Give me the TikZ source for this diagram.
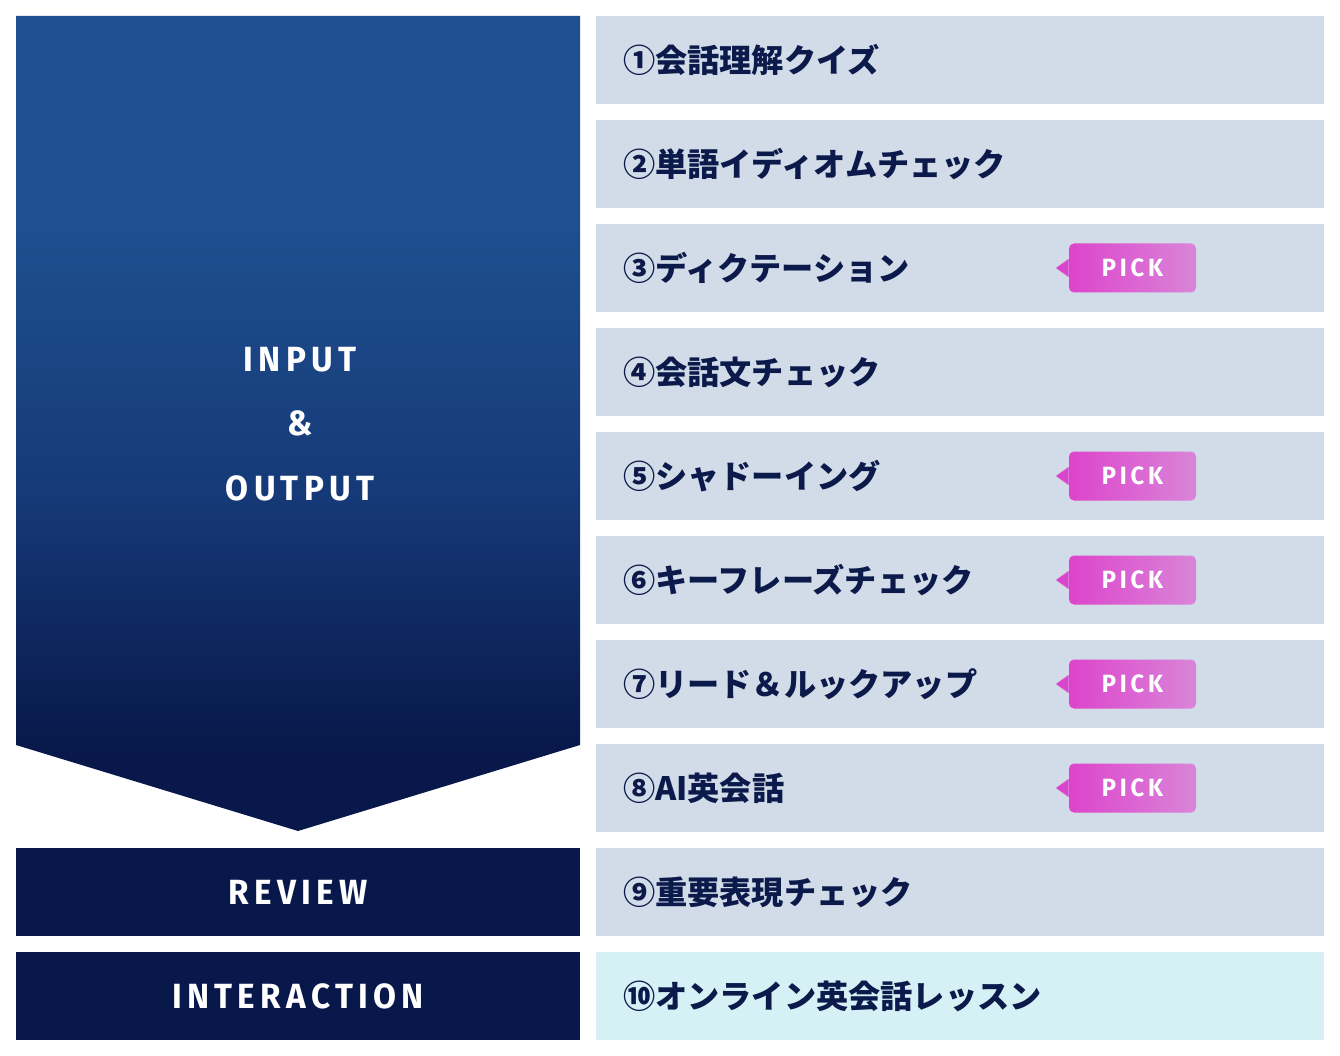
\documentclass[tikz,border=0pt]{standalone}
\usepackage{fontspec}
\newfontfamily\jp{Noto Sans CJK JP}
\newfontfamily\en{Fira Sans}[FakeStretch=0.95,LetterSpace=15,BoldFeatures={FakeStretch=0.95,LetterSpace=15}]
\definecolor{navyb}{HTML}{1F5090}
\definecolor{navym}{HTML}{163A78}
\definecolor{navyd}{HTML}{08184A}
\definecolor{rowc}{HTML}{D2DCE8}
\definecolor{rowlast}{HTML}{D5F1F6}
\definecolor{txtc}{HTML}{0B1A4A}
\definecolor{pinka}{HTML}{DD44CC}
\definecolor{pinkb}{HTML}{D985D8}
\pgfdeclareverticalshading{panelshade}{100bp}{color(0bp)=(navyd); color(30bp)=(navyd); color(46bp)=(navym); color(63bp)=(navyb); color(100bp)=(navyb)}
\pgfdeclarehorizontalshading{pickshade}{100bp}{color(0bp)=(pinka); color(25bp)=(pinka); color(75bp)=(pinkb); color(100bp)=(pinkb)}
\tikzset{
  rowbox/.style={fill=rowc, draw=none, minimum width=728pt, minimum height=88pt, inner sep=0pt},
  lastrow/.style={rowbox, fill=rowlast},
  darkbox/.style={fill=navyd, draw=none, minimum width=564pt, minimum height=88pt, inner sep=0pt},
  rowtext/.style={anchor=west, inner sep=0pt, text=txtc, font=\jp\bfseries\fontsize{32.2}{38}\selectfont},
  labeltext/.style={text=white, inner sep=0pt, font=\en\bfseries\fontsize{35}{40}\selectfont},
  pickbox/.style={shading=pickshade, rounded corners=5pt, minimum width=127pt, minimum height=49pt, inner sep=0pt, text=white, font=\en\bfseries\fontsize{25}{28}\selectfont},
}
\begin{document}
\begin{tikzpicture}[x=1pt,y=-1pt]
\useasboundingbox (0,0) rectangle (1340,1056);
\fill[white] (0,0) rectangle (1340,1056);
% left arrow panel
\shade[shading=panelshade] (16,16) -- (580,16) -- (580,745) -- (298,831) -- (16,745) -- cycle;
\node[labeltext] (inp) at (300,360) {INPUT};
\node[labeltext] (amp) at (300,423) {\&};
\node[labeltext] (outp) at (300,488) {OUTPUT};
\node[darkbox] (review) at (298,892) {};
\node[labeltext] (reviewt) at (review.center) {REVIEW};
\node[darkbox] (inter) at (298,996) {};
\node[labeltext] (intert) at (inter.center) {INTERACTION};
% rows
\node[rowbox] (r1) at (960,60) {};
\node[rowbox] (r2) at (960,164) {};
\node[rowbox] (r3) at (960,268) {};
\node[rowbox] (r4) at (960,372) {};
\node[rowbox] (r5) at (960,476) {};
\node[rowbox] (r6) at (960,580) {};
\node[rowbox] (r7) at (960,684) {};
\node[rowbox] (r8) at (960,788) {};
\node[rowbox] (r9) at (960,892) {};
\node[lastrow] (r10) at (960,996) {};
\node[rowtext] (t1) at ([xshift=27pt]r1.west) {①会話理解クイズ};
\node[rowtext] (t2) at ([xshift=27pt]r2.west) {②単語イディオムチェック};
\node[rowtext] (t3) at ([xshift=27pt]r3.west) {③ディクテーション};
\node[rowtext] (t4) at ([xshift=27pt]r4.west) {④会話文チェック};
\node[rowtext] (t5) at ([xshift=27pt]r5.west) {⑤シャドーイング};
\node[rowtext] (t6) at ([xshift=27pt]r6.west) {⑥キーフレーズチェック};
\node[rowtext] (t7) at ([xshift=27pt]r7.west) {⑦リード＆ルックアップ};
\node[rowtext] (t8) at ([xshift=27pt]r8.west) {⑧AI英会話};
\node[rowtext] (t9) at ([xshift=27pt]r9.west) {⑨重要表現チェック};
\node[rowtext] (t10) at ([xshift=27pt]r10.west) {⑩オンライン英会話レッスン};
% PICK badges
\foreach \r in {3,5,6,7,8}{
  \fill[pinka] ([xshift=108.5pt,yshift=-9pt]r\r.center) -- ([xshift=96pt]r\r.center) -- ([xshift=108.5pt,yshift=9pt]r\r.center) -- cycle;
  \node[pickbox] (p\r) at ([xshift=172.5pt]r\r.center) {PICK};
}
\end{tikzpicture}
\end{document}
